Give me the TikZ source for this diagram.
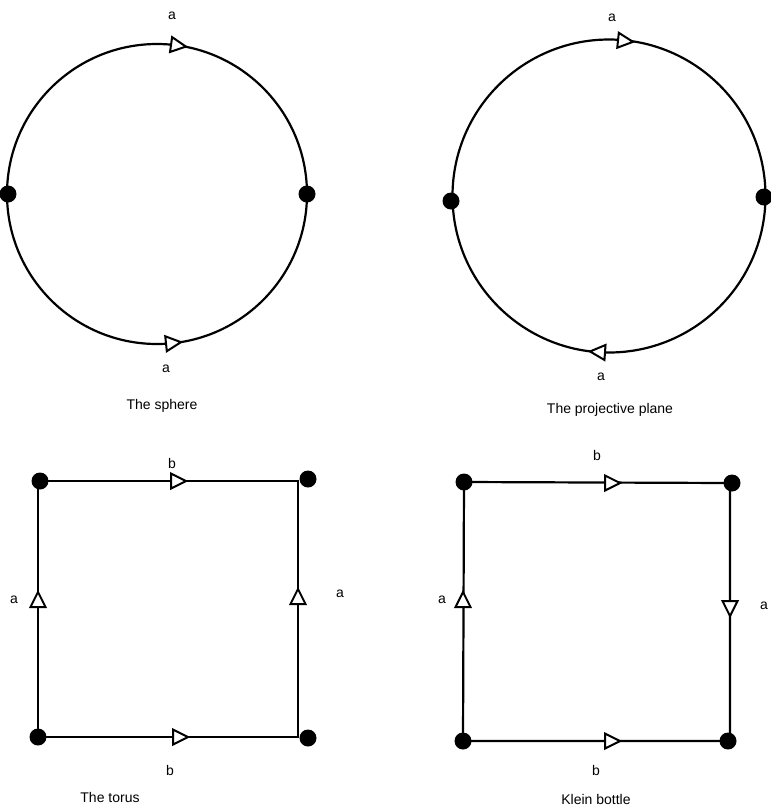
\documentclass[tikz,border=0pt]{standalone}
\usepackage{fontspec}
\setmainfont{Liberation Sans}
\begin{document}
\begin{tikzpicture}[x=1pt,y=-1pt,line width=2.2pt,
  dot/.style={circle,fill=black,inner sep=0pt,minimum size=17pt},
  lbl/.style={font=\fontsize{14}{16}\selectfont,inner sep=0pt},
  tri/.pic={\draw[fill=white,line width=2pt,line join=miter] (-7,-7.5)--(8,0)--(-7,7.5)--cycle;}]
\useasboundingbox (0,0) rectangle (771,807);
% ---------- sphere ----------
\draw (157,194) circle[radius=150];
\node[dot] (sl) at (8,194) {};
\node[dot] (sr) at (307,194) {};
\pic[rotate=-8] at (178,45.5) {tri};
\pic[rotate=6] at (173,343) {tri};
\node[lbl] (sa1) at (172,16) {a};
\node[lbl] (sa2) at (166,369) {a};
\node[lbl] (st) at (162,406) {The sphere};
% ---------- projective plane ----------
\draw (609,196) circle[radius=156.5];
\node[dot] (pl) at (451,201) {};
\node[dot] (pr) at (764,197) {};
\pic[rotate=-6] at (625,41) {tri};
\pic[rotate=176] at (598,352) {tri};
\node[lbl] (pa1) at (612,18) {a};
\node[lbl] (pa2) at (601,377) {a};
\node[lbl] (pt) at (610,410) {The projective plane};
% ---------- torus ----------
\node[dot] (tTL) at (40,481) {};
\node[dot] (tTR) at (308,479) {};
\node[dot] (tBL) at (38,737) {};
\node[dot] (tBR) at (308,738) {};
\coordinate (tcTL) at (38,481);
\coordinate (tcTR) at (298,481);
\coordinate (tcBR) at (298,737);
\draw (tBL.center) -- (tcTL) -- (tcTR) -- (tcBR) -- (tBL.center);
\pic at (178,481) {tri};
\pic at (180,737) {tri};
\pic[rotate=90] at (38,600) {tri};
\pic[rotate=90] at (298,597) {tri};
\node[lbl] (tb1) at (172,463) {b};
\node[lbl] (tb2) at (170,770) {b};
\node[lbl] (ta1) at (14,600) {a};
\node[lbl] (ta2) at (340,594) {a};
\node[lbl] (tt) at (110,797) {The torus};
% ---------- Klein bottle ----------
\node[dot] (kTL) at (464,482) {};
\node[dot] (kTR) at (732,483) {};
\node[dot] (kBL) at (463,741) {};
\node[dot] (kBR) at (728,741) {};
\coordinate (kcTR) at (730,483);
\coordinate (kcBR) at (730,741);
\draw (kBL.center) -- (kTL.center) -- (kcTR) -- (kcBR) -- (kBL.center);
\pic at (612,483) {tri};
\pic at (612,741) {tri};
\pic[rotate=90] at (463,600) {tri};
\pic[rotate=-90] at (730,608) {tri};
\node[lbl] (kb1) at (597,455) {b};
\node[lbl] (kb2) at (596,770) {b};
\node[lbl] (ka1) at (442,600) {a};
\node[lbl] (ka2) at (764,606) {a};
\node[lbl] (kt) at (596,799) {Klein bottle};
\end{tikzpicture}
\end{document}
